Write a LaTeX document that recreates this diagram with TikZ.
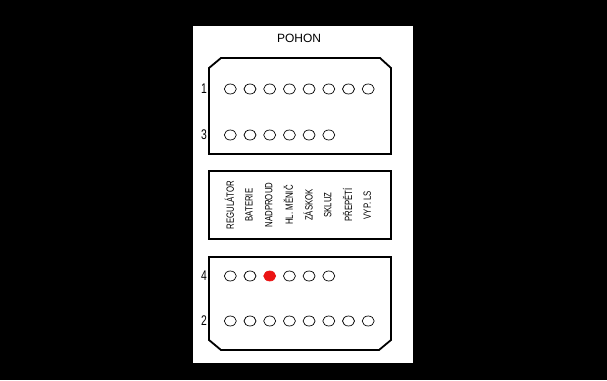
\documentclass[tikz,border=0pt]{standalone}
\usepackage{fontspec}
\setmainfont{Liberation Sans}
\newfontfamily\narrowfont[FakeStretch=0.74]{Liberation Sans}
\usetikzlibrary{shapes.geometric}
\definecolor{ledred}{RGB}{235,20,20}

\tikzset{
    led/.style={ellipse,draw,line width=0.7pt,minimum width=12pt,minimum height=10pt,inner sep=0},
    led on/.style={led,fill=ledred,draw=ledred},
    frame/.style={line width=1.8pt,line join=miter},
    row label/.style={font=\narrowfont\fontsize{14}{14}\selectfont,inner sep=0},
    fault/.style={rotate=90,font=\narrowfont\fontsize{10.5}{10.5}\selectfont,inner sep=0}
    }

\begin{document}
\begin{tikzpicture}[x=1pt,y=-1pt]
    \fill[black] (0,0) rectangle (607,380);
    \fill[white] (193,26) rectangle (413,363);
    \node(title) at (299,38) {\fontsize{12}{12}\selectfont POHON};
    % upper and lower panels
    \draw[frame] (209,68) -- (221,58) -- (380,58) -- (391,68) -- (391,154) -- (209,154) -- cycle;
    \draw[frame] (209,257) -- (391,257) -- (391,340) -- (379,350) -- (221,350) -- (209,340) -- cycle;
    \draw[frame] (209,171) rectangle (391,239);
    % rows of lamps
    \foreach \row/\y/\n in {1/89/8, 3/135/6, 4/276/6, 2/321/8}{
        \node(r\row)[row label] at (204,\y) {\row};
        \foreach \i in {1,...,\n}{
            \ifnum\row\i=43 \def\ledstyle{led on}\else\def\ledstyle{led}\fi
            \node(led\row-\i)[\ledstyle] at ({210.6+19.7*\i},\y) {};
        }
    }
    % fault names
    \foreach \i/\txt in {1/REGULÁTOR, 2/BATERIE, 3/NADPROUD, 4/HL. MĚNIČ,
                         5/ZÁSKOK, 6/SKLUZ, 7/PŘEPĚTÍ, 8/VYP. LS}{
        \node(f\i)[fault] at ({209.6+19.7*\i},205) {\txt};
    }
\end{tikzpicture}
\end{document}
